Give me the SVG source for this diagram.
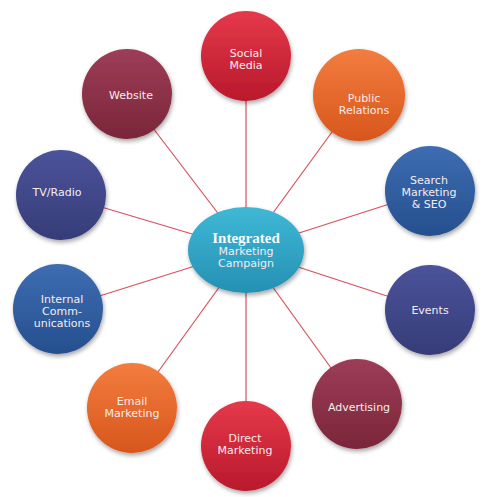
<svg xmlns="http://www.w3.org/2000/svg" width="496" height="497" viewBox="0 0 496 497">
<defs>
<linearGradient id="gRed" x1="0" y1="0" x2="0" y2="1"><stop offset="0" stop-color="#e5394a"/><stop offset="1" stop-color="#b8192c"/></linearGradient>
<linearGradient id="gOrange" x1="0" y1="0" x2="0" y2="1"><stop offset="0" stop-color="#f27d3e"/><stop offset="1" stop-color="#d8561d"/></linearGradient>
<linearGradient id="gBlue" x1="0" y1="0" x2="0" y2="1"><stop offset="0" stop-color="#3d6db2"/><stop offset="1" stop-color="#264f8e"/></linearGradient>
<linearGradient id="gNavy" x1="0" y1="0" x2="0" y2="1"><stop offset="0" stop-color="#4c539a"/><stop offset="1" stop-color="#363c78"/></linearGradient>
<linearGradient id="gMaroon" x1="0" y1="0" x2="0" y2="1"><stop offset="0" stop-color="#9d3d58"/><stop offset="1" stop-color="#7a2639"/></linearGradient>
<linearGradient id="gTeal" x1="0" y1="0" x2="0" y2="1"><stop offset="0" stop-color="#3fb8d6"/><stop offset="1" stop-color="#2590b3"/></linearGradient>
<filter id="sh" x="-20%" y="-20%" width="150%" height="150%"><feDropShadow dx="1" dy="2.5" stdDeviation="2" flood-color="#000" flood-opacity="0.35"/></filter>
</defs>
<style>
.lbl{font-family:"DejaVu Sans",Verdana,sans-serif;font-size:11px;fill:#f6ecee;text-anchor:middle}
.ttl{font-family:"Liberation Serif","Times New Roman",serif;font-size:15px;font-weight:bold;fill:#f6fbfd;text-anchor:middle}
.conn line{stroke:#d9505c;stroke-width:1.2}
.node circle,.node ellipse{filter:url(#sh)}
</style>
<rect width="496" height="497" fill="#ffffff"/>
<g id="connectors" class="conn">
<line x1="246" y1="250" x2="246" y2="56"/>
<line x1="246" y1="250" x2="359" y2="95"/>
<line x1="246" y1="250" x2="430" y2="191"/>
<line x1="246" y1="250" x2="430" y2="310"/>
<line x1="246" y1="250" x2="357" y2="404"/>
<line x1="246" y1="250" x2="246" y2="446"/>
<line x1="246" y1="250" x2="132" y2="408"/>
<line x1="246" y1="250" x2="58" y2="309"/>
<line x1="246" y1="250" x2="61" y2="195"/>
<line x1="246" y1="250" x2="127" y2="94"/>
</g>
<g id="social-media" class="node"><circle cx="246" cy="56" r="45" fill="url(#gRed)"/><text class="lbl" x="246" y="57">Social</text><text class="lbl" x="246" y="69">Media</text></g>
<g id="public-relations" class="node"><circle cx="359" cy="95" r="46" fill="url(#gOrange)"/><text class="lbl" x="364" y="102">Public</text><text class="lbl" x="364" y="114">Relations</text></g>
<g id="search-marketing" class="node"><circle cx="430" cy="191" r="45" fill="url(#gBlue)"/><text class="lbl" x="429" y="184">Search</text><text class="lbl" x="429" y="196">Marketing</text><text class="lbl" x="429" y="208">&amp; SEO</text></g>
<g id="events" class="node"><circle cx="430" cy="310" r="45" fill="url(#gNavy)"/><text class="lbl" x="430" y="314">Events</text></g>
<g id="advertising" class="node"><circle cx="357" cy="404" r="45" fill="url(#gMaroon)"/><text class="lbl" x="359" y="411">Advertising</text></g>
<g id="direct-marketing" class="node"><circle cx="246" cy="446" r="45" fill="url(#gRed)"/><text class="lbl" x="245" y="442">Direct</text><text class="lbl" x="245" y="454">Marketing</text></g>
<g id="email-marketing" class="node"><circle cx="132" cy="408" r="45" fill="url(#gOrange)"/><text class="lbl" x="132" y="405">Email</text><text class="lbl" x="132" y="417">Marketing</text></g>
<g id="internal-communications" class="node"><circle cx="58" cy="309" r="45" fill="url(#gBlue)"/><text class="lbl" x="62" y="303">Internal</text><text class="lbl" x="62" y="315">Comm-</text><text class="lbl" x="62" y="327">unications</text></g>
<g id="tv-radio" class="node"><circle cx="61" cy="195" r="45" fill="url(#gNavy)"/><text class="lbl" x="57" y="196">TV/Radio</text></g>
<g id="website" class="node"><circle cx="127" cy="94" r="45" fill="url(#gMaroon)"/><text class="lbl" x="131" y="99">Website</text></g>
<g id="integrated-marketing-campaign" class="node"><ellipse cx="246" cy="250" rx="58" ry="43" fill="url(#gTeal)"/><text class="ttl" x="246" y="243">Integrated</text><text class="lbl" x="246" y="255">Marketing</text><text class="lbl" x="246" y="267">Campaign</text></g>
</svg>
